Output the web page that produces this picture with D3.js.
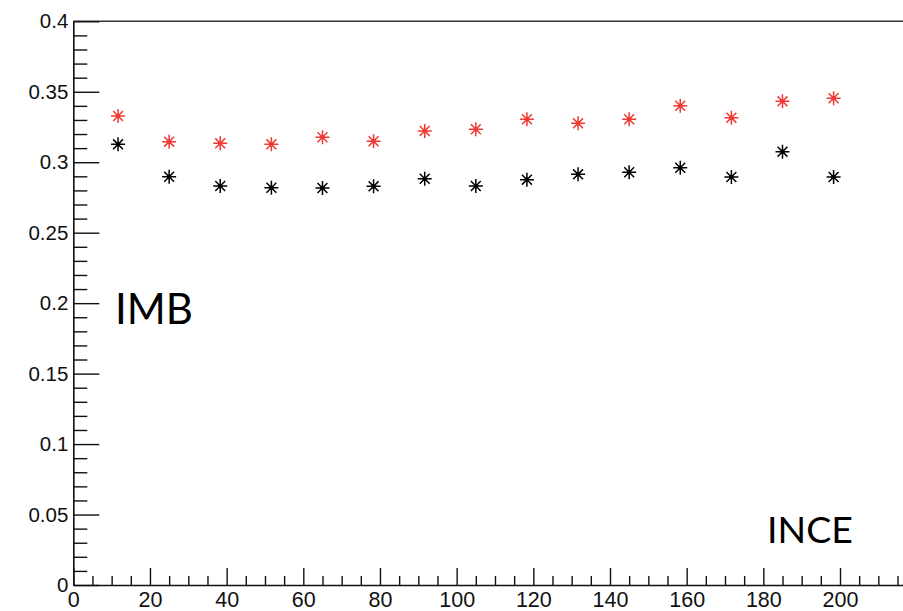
<!DOCTYPE html>
<html><head><meta charset="utf-8">
<script src="https://cdn.jsdelivr.net/npm/d3@7"></script>
<style>
html,body{margin:0;padding:0;background:#fff;}
svg{display:block;}
</style></head>
<body>
<script>
const xValues = [11.67, 25, 38.33, 51.67, 65, 78.33, 91.67, 105, 118.33, 131.67, 145, 158.33, 171.67, 185, 198.33];
const redValues = [0.3328, 0.3146, 0.3134, 0.3127, 0.3177, 0.3149, 0.3222, 0.3234, 0.3305, 0.3276, 0.3305, 0.3401, 0.3316, 0.3432, 0.3454];
const blackValues = [0.3127, 0.2897, 0.2831, 0.2819, 0.2817, 0.2829, 0.2883, 0.2831, 0.2876, 0.2914, 0.2929, 0.2961, 0.2895, 0.3075, 0.2895];
const xTickLabels = [0, 20, 40, 60, 80, 100, 120, 140, 160, 180, 200];
const yTickLabels = [0, 0.05, 0.1, 0.15, 0.2, 0.25, 0.3, 0.35, 0.4];
const labelA = "IMB";
const labelB = "INCE";

(function () {
const W = 903, H = 611;
const padL = 73.3, padT = 21.3, padB = 585;
const pxPerX = 3.8335;

const svg = d3.select("body").append("svg").attr("width", W).attr("height", H);

const x = d3.scaleLinear().domain([0, 220]).range([padL, padL + 220 * pxPerX]);
const y = d3.scaleLinear().domain([0, 0.4]).range([padB, padT]);

const axisColor = "#111";
const tickFont = "'Liberation Sans', Arial, Helvetica, sans-serif";

// frame: top line
svg.append("line").attr("x1", padL).attr("x2", W + 5).attr("y1", y(0.4)).attr("y2", y(0.4))
  .attr("stroke", "#333").attr("stroke-width", 1.6);

// Y axis minor
const yMinor = d3.range(0, 41).map(d => d / 100).filter((v, i) => i % 5 !== 0);
svg.append("g").attr("transform", `translate(${padL},0)`)
  .call(d3.axisLeft(y).tickValues(yMinor).tickSize(-14).tickFormat(""))
  .call(g => g.select(".domain").remove())
  .call(g => g.selectAll("line").attr("stroke", axisColor).attr("stroke-width", 1.4));
// Y axis major
svg.append("g").attr("transform", `translate(${padL},0)`)
  .call(d3.axisLeft(y).tickValues(yTickLabels).tickSize(-26).tickSizeOuter(0).tickPadding(5)
    .tickFormat(d => String(+d.toFixed(2))))
  .call(g => g.select(".domain").attr("stroke", axisColor).attr("stroke-width", 1.6))
  .call(g => g.selectAll("line").attr("stroke", axisColor).attr("stroke-width", 1.4))
  .call(g => g.selectAll("text").attr("font-family", tickFont).attr("font-size", 20.5).attr("fill", "#111"));

// X axis minor
const xMinor = d3.range(5, 220, 5).filter(v => v % 20 !== 0);
svg.append("g").attr("transform", `translate(0,${padB})`)
  .call(d3.axisBottom(x).tickValues(xMinor).tickSize(-9).tickFormat(""))
  .call(g => g.select(".domain").remove())
  .call(g => g.selectAll("line").attr("stroke", axisColor).attr("stroke-width", 1.4));
// X axis major
svg.append("g").attr("transform", `translate(0,${padB})`)
  .call(d3.axisBottom(x).tickValues(xTickLabels).tickSize(-17).tickSizeOuter(0).tickPadding(7))
  .call(g => g.select(".domain").attr("stroke", axisColor).attr("stroke-width", 1.6))
  .call(g => g.selectAll("line").attr("stroke", axisColor).attr("stroke-width", 1.4))
  .call(g => g.selectAll("text").attr("font-family", tickFont).attr("font-size", 21.5).attr("fill", "#111"));

// star markers
const r = 7;
const starPath = d3.range(4).map(i => {
  const a = i * Math.PI / 4;
  const dx = r * Math.cos(a), dy = r * Math.sin(a);
  return `M${-dx},${-dy}L${dx},${dy}`;
}).join("");

function drawSeries(vals, color) {
  const g = svg.append("g");
  const pts = g.selectAll("g.pt").data(vals.map((v, i) => [xValues[i], v])).enter().append("g")
    .attr("transform", d => `translate(${x(d[0])},${y(d[1])})`);
  pts.append("path").attr("d", starPath).attr("stroke", color).attr("stroke-width", 1.5).attr("fill", "none");
  pts.append("circle").attr("r", 2.2).attr("fill", color);
}
drawSeries(redValues, "#ee3a32");
drawSeries(blackValues, "#000");

// annotations
const annFont = "Lato, 'Open Sans', sans-serif";
svg.append("text").attr("x", 115).attr("y", 323.5).text(labelA)
  .attr("font-family", annFont).attr("font-size", 42).attr("fill", "#000");
svg.append("text").attr("x", 767).attr("y", 542.5).text(labelB)
  .attr("font-family", annFont).attr("font-size", 37.5).attr("fill", "#000");
})();
</script>
</body></html>
